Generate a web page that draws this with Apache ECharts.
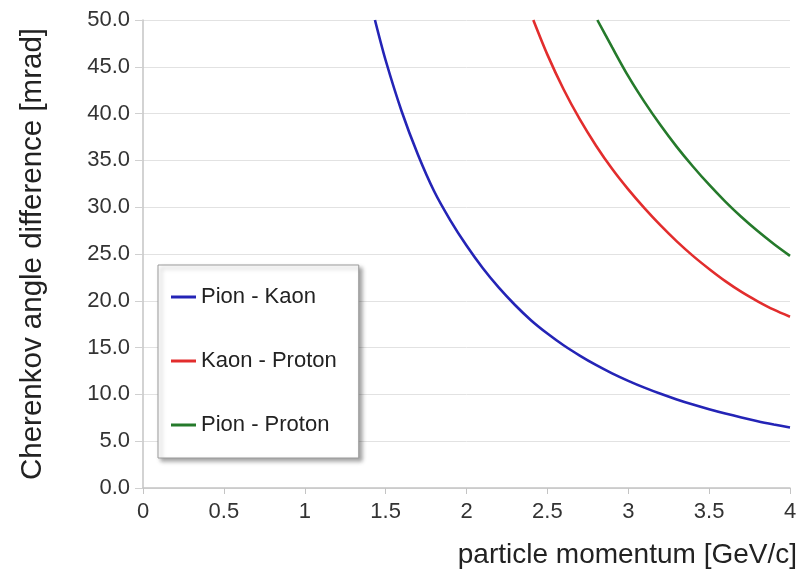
<!DOCTYPE html>
<html>
<head>
<meta charset="utf-8">
<title>Cherenkov angle difference</title>
<script src="https://cdn.jsdelivr.net/npm/echarts@6/dist/echarts.min.js"></script>
<style>
  html, body { margin: 0; padding: 0; background: #ffffff; }
  #chart { width: 808px; height: 573px; }
</style>
</head>
<body>
<div id="chart"></div>
<script>
// Momentum (GeV/c) and angle difference (mrad) for each particle pair
const pionKaonP = [1.434, 1.5, 1.6, 1.7, 1.8, 1.9, 2.0, 2.1, 2.2, 2.3, 2.4, 2.5, 2.6, 2.7, 2.8, 2.9, 3.0, 3.1, 3.2, 3.3, 3.4, 3.5, 3.6, 3.7, 3.8, 3.9, 4.0];
const pionKaonD = [50.0, 45.7, 40.2, 35.6, 31.7, 28.6, 25.9, 23.5, 21.4, 19.55, 17.9, 16.5, 15.25, 14.15, 13.15, 12.25, 11.45, 10.72, 10.06, 9.46, 8.91, 8.41, 7.95, 7.53, 7.14, 6.79, 6.46];

const kaonProtonP = [2.413, 2.5, 2.6, 2.7, 2.8, 2.9, 3.0, 3.1, 3.2, 3.3, 3.4, 3.5, 3.6, 3.7, 3.8, 3.9, 4.0];
const kaonProtonD = [50.0, 46.3, 42.6, 39.4, 36.6, 34.1, 31.9, 29.9, 28.05, 26.35, 24.8, 23.4, 22.1, 20.95, 19.95, 19.05, 18.3];

const pionProtonP = [2.809, 2.9, 3.0, 3.1, 3.2, 3.3, 3.4, 3.5, 3.6, 3.7, 3.8, 3.9, 4.0];
const pionProtonD = [50.0, 47.1, 44.0, 41.25, 38.75, 36.45, 34.35, 32.4, 30.6, 28.95, 27.45, 26.07, 24.8];

const seriesNames = ['Pion - Kaon', 'Kaon - Proton', 'Pion - Proton'];
const seriesColors = ['#2424b6', '#e22d2d', '#257a2b'];

const xTitle = 'particle momentum [GeV/c]';
const yTitle = 'Cherenkov angle difference [mrad]';

const FONT = '"Liberation Sans", Arial, sans-serif';

function pairs(xs, ys) {
  return xs.map((x, i) => [x, ys[i]]);
}

const chart = echarts.init(document.getElementById('chart'), null, { renderer: 'canvas' });

const curves = [
  pairs(pionKaonP, pionKaonD),
  pairs(kaonProtonP, kaonProtonD),
  pairs(pionProtonP, pionProtonD)
];

chart.setOption({
  animation: false,
  backgroundColor: '#ffffff',
  grid: { left: 143, right: 18, top: 20, bottom: 85, containLabel: false },
  legend: {
    orient: 'vertical',
    left: 158,
    top: 265,
    data: seriesNames,
    icon: 'rect',
    itemWidth: 25,
    itemHeight: 3,
    itemGap: 42,
    padding: [21, 22, 22, 13],
    backgroundColor: '#ffffff',
    borderColor: '#9a9a9a',
    borderWidth: 1,
    shadowColor: 'rgba(0,0,0,0.35)',
    shadowBlur: 4,
    shadowOffsetX: 3,
    shadowOffsetY: 3,
    textStyle: { fontFamily: FONT, fontSize: 22, color: '#222222' }
  },
  xAxis: {
    type: 'value',
    min: 0,
    max: 4,
    interval: 0.5,
    name: xTitle,
    nameLocation: 'end',
    nameGap: 7,
    nameTextStyle: {
      fontFamily: FONT, fontSize: 28, color: '#222222',
      align: 'right', verticalAlign: 'top', padding: [53, 0, 0, 0]
    },
    axisLine: { show: true, lineStyle: { color: '#c4c4c4', width: 1.5 } },
    axisTick: { show: true, length: 6, inside: false, lineStyle: { color: '#c4c4c4' } },
    axisLabel: { fontFamily: FONT, fontSize: 22, color: '#333333', margin: 13 },
    splitLine: { show: false }
  },
  yAxis: {
    type: 'value',
    min: 0,
    max: 50,
    interval: 5,
    name: yTitle,
    nameLocation: 'middle',
    nameGap: 95,
    nameRotate: 90,
    nameTextStyle: { fontFamily: FONT, fontSize: 29.5, color: '#222222' },
    axisLine: { show: true, lineStyle: { color: '#c4c4c4', width: 1.5 } },
    axisTick: { show: true, length: 8, inside: false, lineStyle: { color: '#d0d0d0' } },
    axisLabel: {
      fontFamily: FONT, fontSize: 22, color: '#333333', margin: 13,
      formatter: v => v.toFixed(1)
    },
    splitLine: { show: true, lineStyle: { color: '#e2e2e2', width: 1 } }
  },
  series: curves.map((d, i) => ({
    name: seriesNames[i],
    type: 'line',
    data: d,
    smooth: 0.3,
    showSymbol: false,
    symbol: 'none',
    clip: true,
    color: seriesColors[i],
    lineStyle: { color: seriesColors[i], width: 2.6 }
  }))
});
</script>
</body>
</html>
